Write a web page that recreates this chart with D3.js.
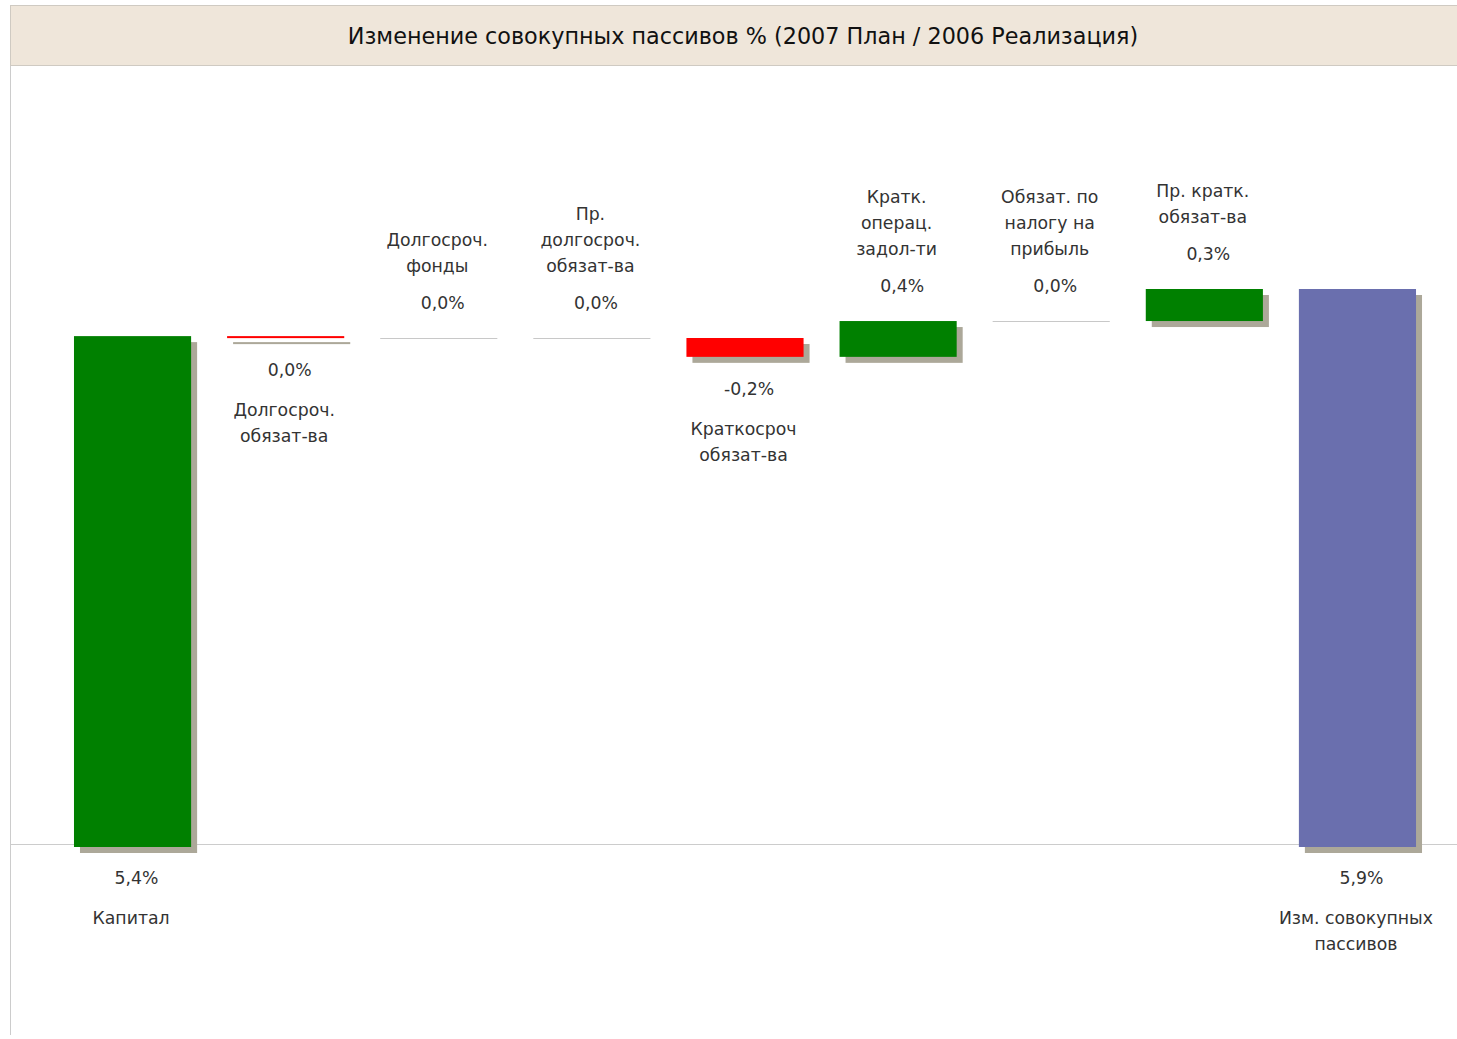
<!DOCTYPE html>
<html>
<head>
<meta charset="utf-8">
<script src="https://cdn.jsdelivr.net/npm/d3@7"></script>
<style>
  body { margin: 0; background: #fff; }
  text { font-family: Tahoma, "DejaVu Sans", "Liberation Sans", sans-serif; }
</style>
</head>
<body>
<script>
var w = 1457;
var h = 1039;

// categories (split in lines as on the picture)
var categories = [
	['Капитал'],
	['Долгосроч.', 'обязат-ва'],
	['Долгосроч.', 'фонды'],
	['Пр.', 'долгосроч.', 'обязат-ва'],
	['Краткосроч', 'обязат-ва'],
	['Кратк.', 'операц.', 'задол-ти'],
	['Обязат. по', 'налогу на', 'прибыль'],
	['Пр. кратк.', 'обязат-ва'],
	['Изм. совокупных', 'пассивов']
];
var kinds = ['base', 'delta', 'delta', 'delta', 'delta', 'delta', 'delta', 'delta', 'total'];
var values = [5.40, -0.02, 0, 0, -0.20, 0.38, 0, 0.34, null];
var title = 'Изменение совокупных пассивов % (2007 План / 2006 Реализация)';

// running totals for the waterfall
var running = 0;
var dataset = categories.map(function(c, i) {
	var d = { lines: c, kind: kinds[i] };
	if (kinds[i] === 'total') {
		d.v = running; d.start = 0; d.end = running;
	} else if (kinds[i] === 'base') {
		d.v = values[i]; d.start = 0; d.end = values[i]; running = values[i];
	} else {
		d.v = values[i]; d.start = running; d.end = running + values[i]; running = d.end;
	}
	return d;
});

var x = d3.scaleBand()
	.domain(d3.range(categories.length))
	.range([38, 1452])
	.paddingInner(0.235)
	.paddingOuter(0.235);

var y = d3.scaleLinear().domain([0, 5.9]).range([845, 289]);

function fmt(v) {
	if (Math.abs(v) < 0.05) v = 0;
	return d3.format('.1f')(v).replace('.', ',').replace('\u2212', '-') + '%';
}
function color(d) {
	if (d.kind === 'total') return '#6a6fae';
	return d.v < 0 ? '#ff0000' : '#008000';
}

var svg = d3.select('body').append('svg')
	.attr('width', w).attr('height', h);

// title bar
svg.append('rect')
	.attr('x', 10.5).attr('y', 5.5).attr('width', w - 10).attr('height', 60)
	.attr('fill', '#efe6da').attr('stroke', '#cfcac2');
svg.append('text')
	.attr('x', 743).attr('y', 36).attr('dy', '0.35em')
	.attr('text-anchor', 'middle')
	.attr('font-size', 22.3).attr('fill', '#111')
	.text(title);

// frame lines
svg.append('line')
	.attr('x1', 10.5).attr('x2', 10.5).attr('y1', 66).attr('y2', 1035)
	.attr('stroke', '#cccccc');
svg.append('line')
	.attr('x1', 10).attr('x2', w).attr('y1', 844.5).attr('y2', 844.5)
	.attr('stroke', '#cccccc');

var bars = dataset.filter(function(d) { return d.v !== 0; });
var flats = dataset.filter(function(d) { return d.v === 0; });
function idx(d) { return dataset.indexOf(d); }
function barTop(d) { return y(Math.max(d.start, d.end)); }
function barBot(d) { return y(Math.min(d.start, d.end)) + (d.kind === 'delta' ? 0 : 2); }

// shadows
svg.selectAll('rect.shadow').data(bars).enter().append('rect')
	.attr('class', 'shadow')
	.attr('x', function(d) { return x(idx(d)) + 6; })
	.attr('y', function(d) { return barTop(d) + 6; })
	.attr('width', x.bandwidth())
	.attr('height', function(d) { return Math.max(2, barBot(d) - barTop(d)); })
	.attr('fill', '#aca899');

svg.selectAll('rect.bar').data(bars).enter().append('rect')
	.attr('class', 'bar')
	.attr('x', function(d) { return x(idx(d)); })
	.attr('y', function(d) { return barTop(d); })
	.attr('width', x.bandwidth())
	.attr('height', function(d) { return Math.max(2, barBot(d) - barTop(d)); })
	.attr('fill', color);

svg.selectAll('line.flat').data(flats).enter().append('line')
	.attr('class', 'flat')
	.attr('x1', function(d) { return x(idx(d)); })
	.attr('x2', function(d) { return x(idx(d)) + x.bandwidth(); })
	.attr('y1', function(d) { return Math.round(y(d.start)) + 0.5; })
	.attr('y2', function(d) { return Math.round(y(d.start)) + 0.5; })
	.attr('stroke', '#c8c8c8');

// labels
var lh = 26;
dataset.forEach(function(d, i) {
	var cx = x(i) + x.bandwidth() / 2;
	var g = svg.append('g').attr('font-size', 17.3).attr('fill', '#333');
	var valY, lineYs = [];
	if (d.kind !== 'delta') {
		valY = 878;
		d.lines.forEach(function(l, k) { lineYs.push(918 + k * lh); });
	} else if (d.v < 0) {
		valY = barBot(d) + 32;
		d.lines.forEach(function(l, k) { lineYs.push(valY + 40 + k * lh); });
	} else {
		valY = barTop(d) - 35;
		var n = d.lines.length;
		d.lines.forEach(function(l, k) { lineYs.push(valY - 37 - (n - 1 - k) * lh); });
	}
	g.append('text')
		.attr('x', cx + 4).attr('y', valY).attr('dy', '0.35em')
		.attr('text-anchor', 'middle')
		.text(fmt(d.v));
	g.selectAll('text.cat').data(d.lines).enter().append('text')
		.attr('class', 'cat')
		.attr('x', cx - 1.5)
		.attr('y', function(l, k) { return lineYs[k]; })
		.attr('dy', '0.35em')
		.attr('text-anchor', 'middle')
		.text(function(l) { return l; });
});
</script>
</body>
</html>
